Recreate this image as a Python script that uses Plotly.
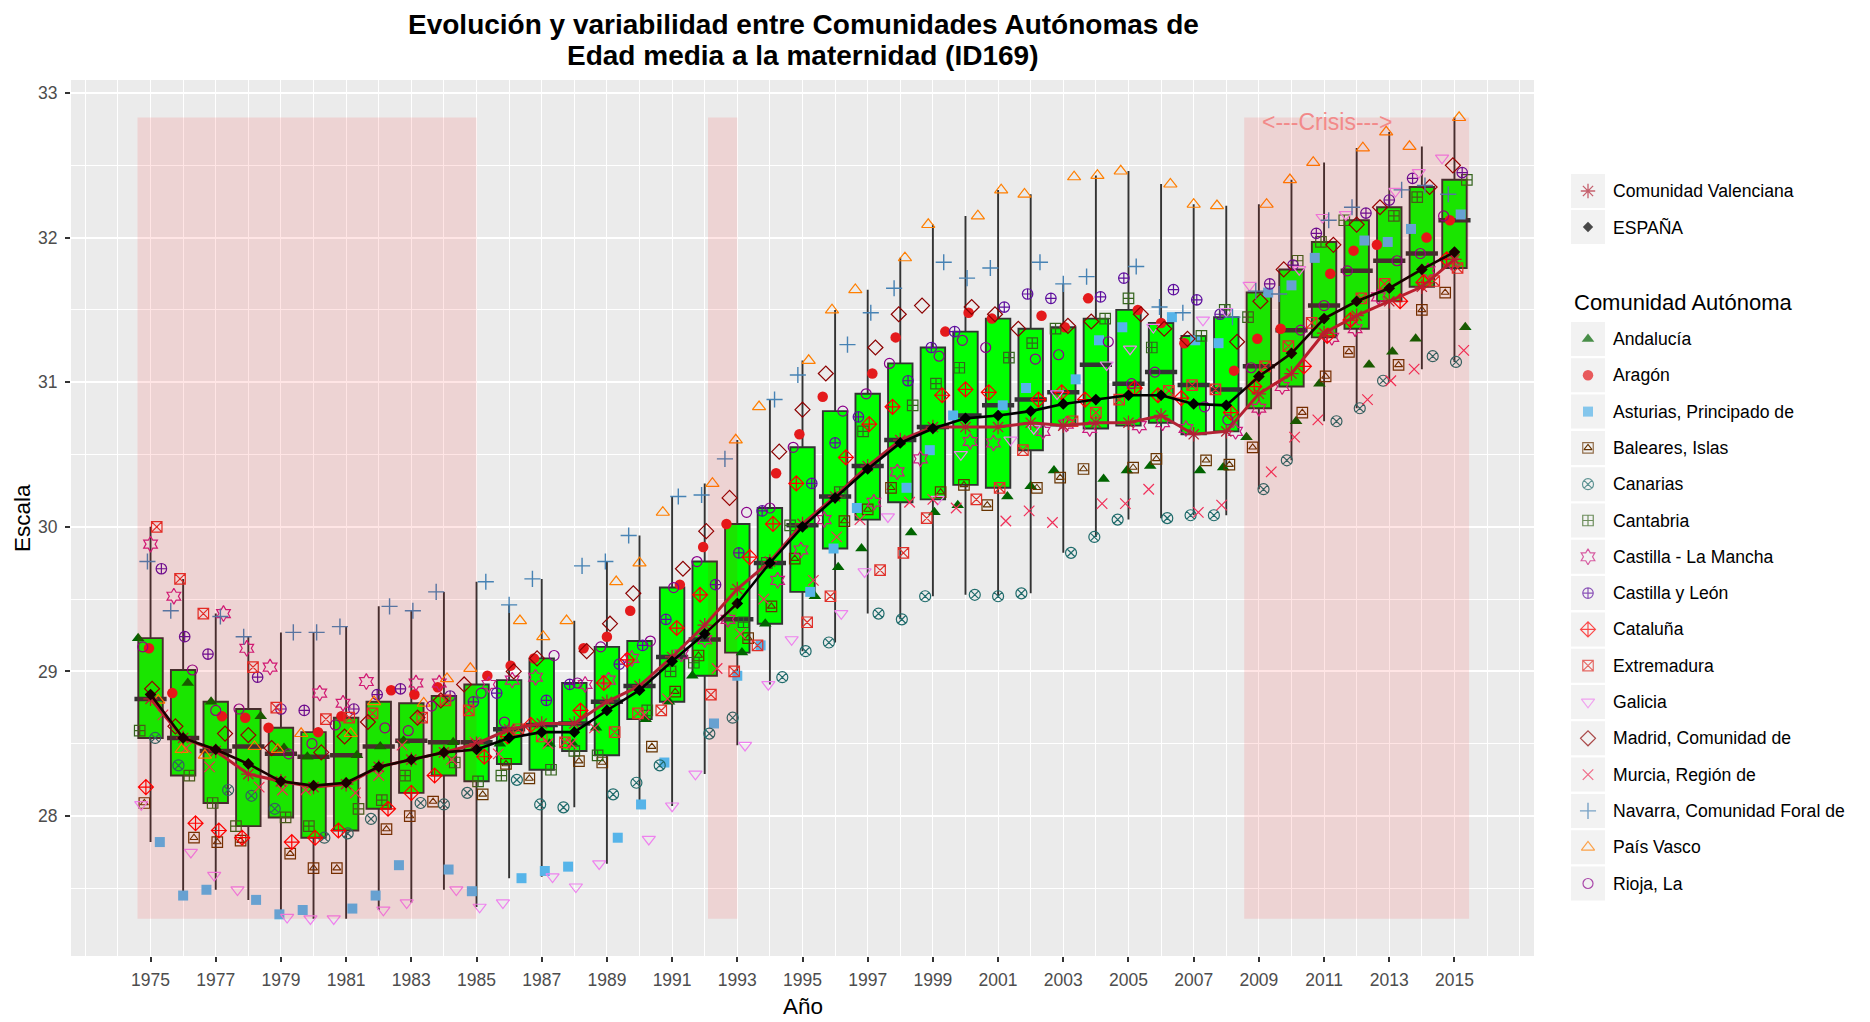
import numpy as np
import plotly.graph_objects as go

YEARS = list(range(1975, 2016))

# Edad media a la maternidad por Comunidad Autónoma (1975-2015)
ANDALUCIA = [29.23, 28.92, 28.79, 28.69, 28.47, 28.41, 28.42, 28.48, 28.52, 28.51,
             28.48, 28.50, 28.50, 28.50, 28.61, 28.67, 28.79, 28.97, 29.13, 29.33,
             29.52, 29.72, 29.85, 29.96, 30.10, 30.15, 30.21, 30.28, 30.39, 30.33,
             30.39, 30.42, 30.39, 30.41, 30.62, 30.73, 30.99, 31.12, 31.21, 31.30,
             31.38]
ARAGON = [29.16, 28.85, 28.69, 28.68, 28.61, 28.58, 28.69, 28.87, 28.84, 28.89,
          28.97, 29.04, 29.09, 29.16, 29.24, 29.42, 29.60, 29.86, 30.02, 30.37,
          30.64, 30.90, 31.06, 31.31, 31.35, 31.48, 31.44, 31.46, 31.38, 31.58,
          31.50, 31.41, 31.27, 31.08, 31.30, 31.37, 31.75, 31.91, 31.95, 32.00,
          32.12]
ASTURIAS = [27.82, 27.45, 27.49, 27.42, 27.32, 27.35, 27.36, 27.45, 27.66, 27.63,
            27.48, 27.57, 27.62, 27.65, 27.85, 28.08, 28.37, 28.64, 28.97, 29.18,
            29.55, 29.85, 30.13, 30.27, 30.53, 30.77, 30.84, 30.96, 31.02, 31.29,
            31.38, 31.45, 31.29, 31.27, 31.62, 31.67, 31.86, 31.98, 31.97, 32.06,
            32.16]
BALEARES = [28.09, 27.85, 27.82, 27.83, 27.74, 27.64, 27.64, 27.91, 28.00, 28.10,
            28.15, 28.36, 28.26, 28.38, 28.37, 28.48, 28.86, 29.11, 29.23, 29.45,
            29.78, 30.04, 30.12, 30.27, 30.24, 30.29, 30.15, 30.27, 30.34, 30.40,
            30.41, 30.47, 30.46, 30.43, 30.55, 30.79, 31.04, 31.21, 31.12, 31.50,
            31.62]
CANARIAS = [28.54, 28.35, 28.18, 28.14, 28.05, 27.85, 27.88, 27.98, 28.09, 28.08,
            28.16, 28.25, 28.08, 28.06, 28.15, 28.23, 28.35, 28.57, 28.68, 28.96,
            29.14, 29.20, 29.40, 29.36, 29.52, 29.53, 29.52, 29.54, 29.82, 29.93,
            30.05, 30.06, 30.08, 30.08, 30.26, 30.46, 30.73, 30.82, 31.01, 31.18,
            31.14]
CANTABRIA = [28.59, 28.28, 28.09, 27.93, 27.99, 27.93, 28.05, 28.11, 28.28, 28.37,
             28.24, 28.28, 28.32, 28.45, 28.42, 28.73, 29.00, 29.06, 29.34, 29.75,
             30.01, 30.24, 30.66, 30.84, 30.99, 31.10, 31.17, 31.27, 31.37, 31.44,
             31.58, 31.24, 31.32, 31.50, 31.45, 31.84, 31.97, 32.12, 32.15, 32.28,
             32.40]
CASTILLA_LA_MANCHA = [29.88, 29.52, 29.40, 29.16, 29.03, 28.85, 28.78, 28.93, 28.92, 28.92,
                      28.91, 28.94, 28.96, 28.91, 28.94, 29.09, 29.12, 29.22, 29.36, 29.63,
                      29.84, 30.05, 30.17, 30.38, 30.47, 30.59, 30.58, 30.66, 30.71, 30.68,
                      30.70, 30.72, 30.68, 30.66, 30.82, 30.97, 31.31, 31.37, 31.59, 31.77,
                      31.83]
CASTILLA_Y_LEON = [29.71, 29.24, 29.12, 28.96, 28.74, 28.73, 28.74, 28.84, 28.88, 28.83,
                   28.79, 28.85, 28.80, 28.91, 29.05, 29.18, 29.36, 29.60, 29.82, 30.11,
                   30.30, 30.58, 30.76, 31.01, 31.24, 31.35, 31.52, 31.61, 31.58, 31.59,
                   31.72, 31.64, 31.57, 31.47, 31.68, 31.81, 32.03, 32.17, 32.26, 32.41,
                   32.45]
CATALUNA = [28.20, 27.95, 27.90, 27.85, 27.82, 27.85, 27.90, 28.05, 28.16, 28.28,
            28.41, 28.55, 28.63, 28.73, 28.92, 29.08, 29.30, 29.53, 29.79, 30.02,
            30.30, 30.48, 30.71, 30.83, 30.91, 30.95, 30.93, 30.88, 30.93, 30.88,
            30.96, 30.91, 30.89, 30.79, 30.97, 31.11, 31.32, 31.43, 31.56, 31.69,
            31.85]
EXTREMADURA = [30.00, 29.64, 29.40, 29.03, 28.75, 28.67, 28.68, 28.71, 28.68, 28.80,
               28.73, 28.60, 28.55, 28.51, 28.58, 28.71, 28.73, 28.84, 29.00, 29.18,
               29.34, 29.52, 29.70, 29.82, 30.06, 30.19, 30.27, 30.53, 30.73, 30.79,
               30.88, 30.94, 30.98, 30.95, 31.11, 31.25, 31.41, 31.58, 31.68, 31.70,
               31.79]
GALICIA = [28.08, 27.75, 27.59, 27.49, 27.30, 27.29, 27.29, 27.35, 27.40, 27.49,
           27.37, 27.40, 27.58, 27.51, 27.67, 27.84, 28.07, 28.29, 28.49, 28.91,
           29.22, 29.40, 29.69, 30.07, 30.19, 30.50, 30.60, 30.68, 30.92, 31.12,
           31.23, 31.38, 31.43, 31.49, 31.67, 31.78, 32.14, 32.16, 32.32, 32.45,
           32.55]
MADRID = [28.88, 28.62, 28.57, 28.56, 28.47, 28.44, 28.55, 28.65, 28.68, 28.80,
          28.91, 29.00, 29.09, 29.14, 29.33, 29.54, 29.71, 29.97, 30.20, 30.52,
          30.81, 31.06, 31.24, 31.47, 31.53, 31.52, 31.47, 31.37, 31.39, 31.42,
          31.47, 31.37, 31.30, 31.28, 31.56, 31.78, 31.95, 32.09, 32.21, 32.35,
          32.50]
MURCIA = [28.70, 28.47, 28.34, 28.20, 28.18, 28.18, 28.16, 28.28, 28.49, 28.39,
          28.51, 28.43, 28.50, 28.50, 28.61, 28.70, 28.81, 29.02, 29.26, 29.50,
          29.63, 29.93, 30.05, 30.17, 30.19, 30.13, 30.04, 30.11, 30.03, 30.16,
          30.16, 30.26, 30.10, 30.15, 30.38, 30.62, 30.74, 30.88, 31.01, 31.09,
          31.22]
NAVARRA = [29.76, 29.42, 29.38, 29.24, 29.27, 29.27, 29.31, 29.45, 29.42, 29.55,
           29.62, 29.46, 29.64, 29.73, 29.76, 29.94, 30.21, 30.22, 30.47, 30.88,
           31.05, 31.26, 31.48, 31.65, 31.83, 31.72, 31.79, 31.83, 31.68, 31.73,
           31.80, 31.52, 31.48, 31.45, 31.63, 31.61, 32.12, 32.21, 32.33, 32.36,
           32.30]
PAIS_VASCO = [28.80, 28.46, 28.42, 28.48, 28.46, 28.57, 28.57, 28.79, 28.78, 28.95,
              29.02, 29.35, 29.24, 29.35, 29.62, 29.75, 30.10, 30.30, 30.60, 30.83,
              31.15, 31.50, 31.64, 31.86, 32.09, 32.15, 32.33, 32.30, 32.42, 32.43,
              32.46, 32.37, 32.23, 32.22, 32.23, 32.40, 32.52, 32.62, 32.73, 32.63,
              32.83]
RIOJA = [29.17, 29.01, 28.73, 28.74, 28.43, 28.50, 28.63, 28.61, 28.59, 28.76,
         28.85, 28.65, 29.11, 28.92, 29.17, 29.21, 29.58, 29.76, 30.10, 30.13,
         30.55, 30.80, 30.92, 31.13, 31.18, 31.29, 31.24, 31.16, 31.19, 31.28,
         30.99, 31.07, 30.83, 30.74, 31.10, 31.36, 31.53, 31.77, 31.84, 31.89,
         32.15]
VALENCIANA = [28.81, 28.54, 28.45, 28.29, 28.24, 28.20, 28.22, 28.34, 28.39, 28.44,
              28.50, 28.60, 28.64, 28.64, 28.79, 28.90, 29.10, 29.32, 29.57, 29.76,
              30.02, 30.21, 30.42, 30.60, 30.69, 30.69, 30.69, 30.72, 30.70, 30.72,
              30.72, 30.77, 30.64, 30.66, 30.92, 31.06, 31.34, 31.46, 31.56, 31.66,
              31.85]
ESPANA = [28.84, 28.54, 28.46, 28.36, 28.24, 28.21, 28.23, 28.34, 28.39, 28.44,
          28.46, 28.54, 28.58, 28.58, 28.73, 28.87, 29.07, 29.26, 29.47, 29.75,
          30.00, 30.20, 30.40, 30.58, 30.68, 30.75, 30.77, 30.80, 30.85, 30.88,
          30.91, 30.91, 30.85, 30.84, 31.04, 31.20, 31.44, 31.56, 31.65, 31.78,
          31.90]

# periodos sombreados (inicio, fin)
PERIODOS = [(1974.6, 1985.0), (1992.1, 1993.0), (2008.55, 2015.45)]

# nombre, datos, simbolo, color, tamaño, grosor de linea
CCAA = [
    ("Andalucía", ANDALUCIA, "triangle-up", "#006400", 11, 0),
    ("Aragón", ARAGON, "circle", "#E41A1C", 10.5, 0),
    ("Asturias, Principado de", ASTURIAS, "square", "#56B4E9", 10, 0),
    ("Baleares, Islas", BALEARES, "square-open", "#663300", 10.5, 1.2),
    ("Canarias", CANARIAS, "circle-x-open", "#1F6B6B", 11, 1.2),
    ("Cantabria", CANTABRIA, "square-cross-open", "#35641E", 10.5, 1.2),
    ("Castilla - La Mancha", CASTILLA_LA_MANCHA, "hexagram-open", "#CC1C80", 12, 1.2),
    ("Castilla y León", CASTILLA_Y_LEON, "circle-cross-open", "#5E0E9E", 10.5, 1.2),
    ("Cataluña", CATALUNA, "diamond-cross-open", "#FF0000", 11.5, 1.2),
    ("Extremadura", EXTREMADURA, "square-x-open", "#E0302A", 10.5, 1.2),
    ("Galicia", GALICIA, "triangle-down-open", "#EE82EE", 11.5, 1.2),
    ("Madrid, Comunidad de", MADRID, "diamond-open", "#8B0000", 11.5, 1.2),
    ("Murcia, Región de", MURCIA, "x-thin-open", "#F0305A", 10.5, 1.2),
    ("Navarra, Comunidad Foral de", NAVARRA, "cross-thin-open", "#4682B4", 11.5, 1.4),
    ("País Vasco", PAIS_VASCO, "triangle-up-open", "#FF7F00", 11.5, 1.2),
    ("Rioja, La", RIOJA, "circle-open", "#8B008B", 10, 1.2),
]
VAL_COLOR = "#B22234"
FONT = "Liberation Sans, Arial, sans-serif"
W, H = 1870, 1022

# estadisticos de la caja (17 comunidades)
vals = np.array([c[1] for c in CCAA] + [VALENCIANA])
q1 = np.percentile(vals, 25, axis=0)
med = np.percentile(vals, 50, axis=0)
q3 = np.percentile(vals, 75, axis=0)
iqr = q3 - q1
low = [vals[:, j][vals[:, j] >= q1[j] - 1.5 * iqr[j]].min() for j in range(len(YEARS))]
upp = [vals[:, j][vals[:, j] <= q3[j] + 1.5 * iqr[j]].max() for j in range(len(YEARS))]

fig = go.Figure()

fig.add_trace(go.Box(
    x=YEARS, q1=q1, median=med, q3=q3, lowerfence=low, upperfence=upp,
    width=0.75, whiskerwidth=0, boxpoints=False, fillcolor="#00FF00",
    line=dict(color="#333333", width=1.9), showlegend=False, hoverinfo="skip"))
# mediana mas gruesa
fig.add_trace(go.Scatter(
    x=YEARS, y=med, mode="markers", showlegend=False, hoverinfo="skip",
    marker=dict(symbol="line-ew", size=23, color="#333333",
                line=dict(width=4.5, color="#333333"))))

# puntos con desplazamiento horizontal (jitter determinista)
for k, (name, data, sym, col, size, lw) in enumerate(CCAA):
    xs = [yr + 0.38 * (((k * 7 + i * 11) % 17) / 8 - 1) for i, yr in enumerate(YEARS)]
    fig.add_trace(go.Scatter(
        x=xs, y=data, mode="markers", name=name, showlegend=False, hoverinfo="skip",
        marker=dict(symbol=sym, size=size, color=col, line=dict(width=lw, color=col))))
    if name == "Baleares, Islas":
        fig.add_trace(go.Scatter(
            x=xs, y=data, mode="markers", showlegend=False, hoverinfo="skip",
            marker=dict(symbol="triangle-up-open", size=7, color=col,
                        line=dict(width=1.1, color=col))))

fig.add_trace(go.Scatter(
    x=YEARS, y=VALENCIANA, mode="lines+markers", showlegend=False, hoverinfo="skip",
    line=dict(color=VAL_COLOR, width=3),
    marker=dict(symbol="asterisk-open", size=12, color=VAL_COLOR,
                line=dict(width=1.3, color=VAL_COLOR))))
fig.add_trace(go.Scatter(
    x=YEARS, y=ESPANA, mode="lines+markers", showlegend=False, hoverinfo="skip",
    line=dict(color="black", width=2.6),
    marker=dict(symbol="diamond", size=9, color="black")))

# leyenda dibujada a mano (coordenadas en pixeles sobre x2/y2)
rows = [191, 227] + [339 + 36.3 * k for k in range(len(CCAA))]
labels = ["Comunidad Valenciana", "ESPAÑA"] + [c[0] for c in CCAA]
syms = ["asterisk-open", "diamond"] + [c[2] for c in CCAA]
cols = [VAL_COLOR, "black"] + [c[3] for c in CCAA]
sizes = [12, 8] + [c[4] for c in CCAA]
lws = [1.3, 0] + [c[5] for c in CCAA]
key_x = 1588

shapes = [dict(type="rect", xref="x domain", yref="y domain", x0=0, x1=1, y0=0, y1=1,
               fillcolor="#EBEBEB", line=dict(width=0), layer="below")]
for r in rows:
    shapes.append(dict(type="rect", xref="x2", yref="y2", x0=1571, x1=1605,
                       y0=r - 17, y1=r + 17, fillcolor="#F2F2F2",
                       line=dict(width=0), layer="below"))
ymin, ymax = vals.min(), max(vals.max(), max(ESPANA))
for x0, x1 in PERIODOS:
    shapes.append(dict(type="rect", xref="x", yref="y", x0=x0, x1=x1, y0=ymin, y1=ymax,
                       fillcolor="rgba(255,0,0,0.1)", line=dict(width=0), layer="above"))

fig.add_trace(go.Scatter(
    x=[key_x] * len(rows), y=rows, xaxis="x2", yaxis="y2", mode="markers",
    showlegend=False, hoverinfo="skip",
    marker=dict(symbol=syms, size=sizes, color=cols, line=dict(width=lws, color=cols))))
bal_row = rows[2 + [c[0] for c in CCAA].index("Baleares, Islas")]
fig.add_trace(go.Scatter(
    x=[key_x], y=[bal_row], xaxis="x2", yaxis="y2", mode="markers",
    showlegend=False, hoverinfo="skip",
    marker=dict(symbol="triangle-up-open", size=7, color="#663300",
                line=dict(width=1.1, color="#663300"))))

annotations = []
for r, lab in zip(rows, labels):
    annotations.append(dict(x=1611, y=r, xref="x2", yref="y2", text=lab, showarrow=False,
                            xanchor="left", yanchor="middle",
                            font=dict(size=17.6, color="black", family=FONT)))
annotations += [
    dict(x=1572, y=302, xref="x2", yref="y2", text="Comunidad Autónoma", showarrow=False,
         xanchor="left", yanchor="middle", font=dict(size=22, color="black", family=FONT)),
    dict(x=803, y=24, xref="x2", yref="y2", showarrow=False,
         text="<b>Evolución y variabilidad entre Comunidades Autónomas de</b>",
         xanchor="center", yanchor="middle", font=dict(size=28, color="black", family=FONT)),
    dict(x=803, y=55, xref="x2", yref="y2", showarrow=False,
         text="<b>Edad media a la maternidad (ID169)</b>",
         xanchor="center", yanchor="middle", font=dict(size=28, color="black", family=FONT)),
    dict(x=803, y=1006, xref="x2", yref="y2", text="Año", showarrow=False,
         xanchor="center", yanchor="middle", font=dict(size=22.5, color="black", family=FONT)),
    dict(x=22, y=518, xref="x2", yref="y2", text="Escala", showarrow=False,
         textangle=-90, xanchor="center", yanchor="middle",
         font=dict(size=22.5, color="black", family=FONT)),
    dict(x=2011.1, y=32.8, xref="x", yref="y", text="&lt;---Crisis---&gt;", showarrow=False,
         xanchor="center", yanchor="middle", font=dict(size=23, color="#F28A8A", family=FONT)),
]

fig.update_layout(
    width=W, height=H,
    margin=dict(l=0, r=0, t=0, b=0),
    paper_bgcolor="white",
    plot_bgcolor="rgba(0,0,0,0)",
    font=dict(family=FONT, color="black"),
    xaxis=dict(domain=[71 / W, 1534 / W], range=[1972.56, 2017.44], anchor="y",
               tickmode="array", tickvals=YEARS[::2], ticks="outside", ticklen=5,
               tickwidth=1.5, tickcolor="#333333", ticklabelstandoff=3,
               tickfont=dict(size=17.5, color="#4D4D4D"),
               showgrid=True, gridcolor="white", gridwidth=1.4,
               minor=dict(tickmode="linear", tick0=1973, dtick=1, showgrid=True,
                          gridcolor="white", gridwidth=1.2, ticks=""),
               zeroline=False, showline=False),
    yaxis=dict(domain=[1 - 956 / H, 1 - 80 / H], range=[27.032, 33.09], anchor="x",
               tickmode="array", tickvals=[28, 29, 30, 31, 32, 33], ticks="outside",
               ticklen=5, tickwidth=1.5, tickcolor="#333333", ticklabelstandoff=4,
               tickfont=dict(size=17.5, color="#4D4D4D"),
               showgrid=True, gridcolor="white", gridwidth=1.6,
               minor=dict(tickmode="linear", tick0=27.5, dtick=0.5, showgrid=True,
                          gridcolor="white", gridwidth=1.2, ticks=""),
               zeroline=False, showline=False),
    xaxis2=dict(domain=[0, 1], range=[0, W], anchor="y2", visible=False),
    yaxis2=dict(domain=[0, 1], range=[H, 0], anchor="x2", visible=False),
    shapes=shapes,
    annotations=annotations,
)

# sin margen del body para que la figura ocupe la ventana exacta
fig.write_html("out.html", config={"displayModeBar": False},
               post_script="document.body.style.margin='0';document.body.style.overflow='hidden';")
